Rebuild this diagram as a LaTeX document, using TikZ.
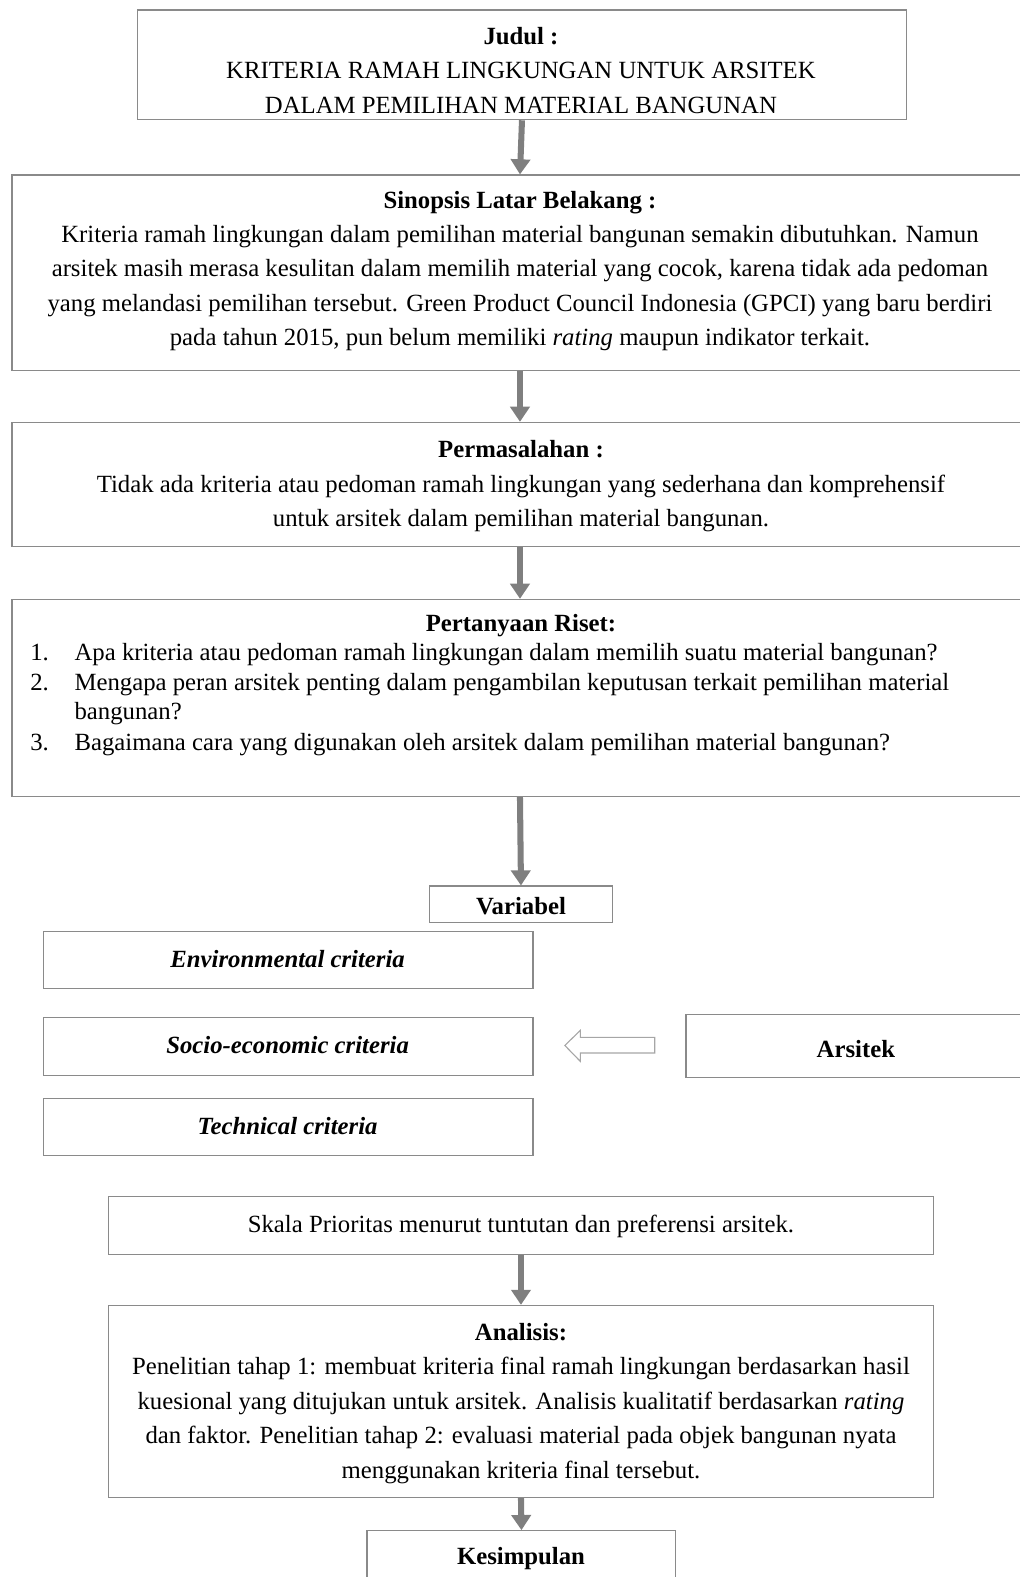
\documentclass[tikz,border=0pt]{standalone}
\usepackage{fontspec}
\setmainfont{Liberation Serif}
\usetikzlibrary{arrows.meta}
\definecolor{bordergray}{HTML}{8A8A8A}
\definecolor{arrowgray}{HTML}{7F7F7F}
\definecolor{hollowgray}{HTML}{A6A6A6}
\tikzset{
  box/.style={draw=bordergray, line width=1.2pt, inner sep=0pt, fill=white},
  txt/.style={inner sep=0pt, align=center, font=\fontsize{24.6}{34.3}\selectfont},
  ltxt/.style={inner sep=0pt, align=left, anchor=west, text height=17pt, text depth=5.5pt, font=\fontsize{24.6}{34.3}\selectfont},
  garrow/.style={draw=arrowgray, line width=6pt, -{Triangle[length=15pt,width=19pt]}, arrowgray},
  hollow/.style={draw=hollowgray, line width=1.1pt, fill=white, line join=miter}
}
\begin{document}
\begin{tikzpicture}[x=1pt,y=-1pt]
\useasboundingbox (0,0) rectangle (1014,1568);
% boxes
\node[box, minimum width=764pt, minimum height=109pt] (judul) at (519,64.5) {};
\node[box, minimum width=1010pt, minimum height=194pt] (sinopsis) at (517,271) {};
\node[box, minimum width=1010pt, minimum height=123pt] (masalah) at (517,481.5) {};
\node[box, minimum width=1010pt, minimum height=196pt] (riset) at (517,694) {};
\node[box, minimum width=182pt, minimum height=36pt] (variabel) at (518,899) {};
\node[box, minimum width=487pt, minimum height=57pt] (env) at (286.5,954.5) {};
\node[box, minimum width=487pt, minimum height=57pt] (socio) at (286.5,1040.5) {};
\node[box, minimum width=487pt, minimum height=57pt] (tech) at (286.5,1120.5) {};
\node[box, minimum width=340pt, minimum height=62pt] (arsitek) at (852,1040) {};
\node[box, minimum width=820pt, minimum height=57pt] (skala) at (518,1218.5) {};
\node[box, minimum width=820pt, minimum height=191pt] (analisis) at (518,1393.5) {};
\node[box, minimum width=307pt, minimum height=60pt] (kesimpulan) at (518.5,1552) {};

% texts
\node[txt] (tjudul) at (518,70) {\textbf{Judul :}\\KRITERIA RAMAH LINGKUNGAN UNTUK ARSITEK\\DALAM PEMILIHAN MATERIAL BANGUNAN};
\node[txt] (tsinopsis) at (517,269.5) {\textbf{Sinopsis Latar Belakang :}\\
Kriteria ramah lingkungan dalam pemilihan material bangunan semakin dibutuhkan. Namun\\
arsitek masih merasa kesulitan dalam memilih material yang cocok, karena tidak ada pedoman\\
yang melandasi pemilihan tersebut. Green Product Council Indonesia (GPCI) yang baru berdiri\\
pada tahun 2015, pun belum memiliki \textit{rating} maupun indikator terkait.};
\node[txt] (tmasalah) at (518,483.5) {\textbf{Permasalahan :}\\
Tidak ada kriteria atau pedoman ramah lingkungan yang sederhana dan komprehensif\\
untuk arsitek dalam pemilihan material bangunan.};
\node[txt] (trisetH) at (518,622) {\textbf{Pertanyaan Riset:}};
\node[ltxt] (n1) at (30,651) {1.};
\node[ltxt] (i1) at (74,651) {Apa kriteria atau pedoman ramah lingkungan dalam memilih suatu material bangunan?};
\node[ltxt] (n2) at (30,681) {2.};
\node[ltxt] (i2) at (74,681) {Mengapa peran arsitek penting dalam pengambilan keputusan terkait pemilihan material};
\node[ltxt] (i2b) at (74,710) {bangunan?};
\node[ltxt] (n3) at (30,740) {3.};
\node[ltxt] (i3) at (74,740) {Bagaimana cara yang digunakan oleh arsitek dalam pemilihan material bangunan?};
\node[txt] (tvariabel) at (518,901) {\textbf{Variabel}};
\node[txt] (tenv) at (286,954) {\textbf{\textit{Environmental criteria}}};
\node[txt] (tsocio) at (286,1039) {\textbf{\textit{Socio-economic criteria}}};
\node[txt] (ttech) at (286,1120) {\textbf{\textit{Technical criteria}}};
\node[txt] (tarsitek) at (851,1043) {\textbf{Arsitek}};
\node[txt] (tskala) at (518,1219) {Skala Prioritas menurut tuntutan dan preferensi arsitek.};
\node[txt] (tanalisis) at (518,1395.5) {\textbf{Analisis:}\\
Penelitian tahap 1: membuat kriteria final ramah lingkungan berdasarkan hasil\\
kuesional yang ditujukan untuk arsitek. Analisis kualitatif berdasarkan \textit{rating}\\
dan faktor. Penelitian tahap 2: evaluasi material pada objek bangunan nyata\\
menggunakan kriteria final tersebut.};
\node[txt] (tkesimpulan) at (518,1550) {\textbf{Kesimpulan}};

% arrows
\draw[garrow] (judul.south) -- (sinopsis.north);
\draw[garrow] (sinopsis.south) -- (masalah.north);
\draw[garrow] (masalah.south) -- (riset.north);
\draw[garrow] (riset.south) -- (variabel.north);
\draw[garrow] (skala.south) -- (analisis.north);
\draw[garrow] (analisis.south) -- (kesimpulan.north);

% hollow arrow from Arsitek to criteria
\coordinate (ha) at (651,1039.5);
\draw[hollow] (ha) ++(0,-8) -- (577,1031.5) -- (577,1024.5) -- (561.6,1039.5) -- (577,1055.3) -- (577,1047) -- (651,1047) -- cycle;
\end{tikzpicture}
\end{document}
